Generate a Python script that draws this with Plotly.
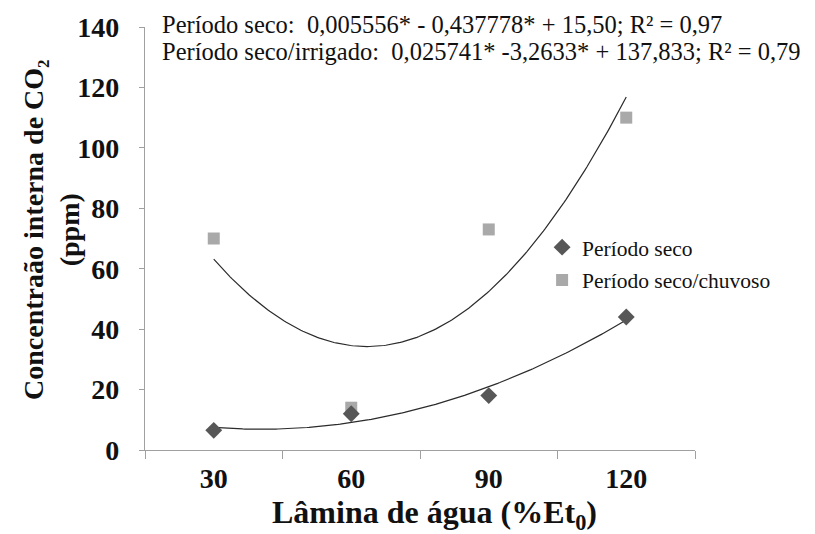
import numpy as np
import plotly.graph_objects as go

categories = ["30", "60", "90", "120"]
seco = [6.5, 12, 18, 44]
seco_chuvoso = [70, 14, 73, 110]
y_ticks = [0, 20, 40, 60, 80, 100, 120, 140]
eq_seco = "Período seco:  0,005556* - 0,437778* + 15,50; R² = 0,97"
eq_irrig = "Período seco/irrigado:  0,025741* -3,2633* + 137,833; R² = 0,79"

FONT = "Liberation Serif, Times New Roman, serif"
idx = np.arange(1, len(categories) + 1)

fig = go.Figure()

# polynomial (order 2) trendlines computed from the data, as in the original chart
xs = np.linspace(idx[0], idx[-1], 200)
for ys in (seco, seco_chuvoso):
    coef = np.polyfit(idx, ys, 2)
    fig.add_trace(go.Scatter(x=xs, y=np.polyval(coef, xs), mode="lines",
                             line=dict(color="#2b2b2b", width=1.2),
                             showlegend=False, hoverinfo="skip"))

fig.add_trace(go.Scatter(x=idx, y=seco_chuvoso, mode="markers", name="Período seco/chuvoso",
                         marker=dict(symbol="square", size=12, color="#a9a9a9"),
                         legendrank=2, legendgroup="b"))
fig.add_trace(go.Scatter(x=idx, y=seco, mode="markers", name="Período seco",
                         marker=dict(symbol="diamond", size=13, color="#575757"),
                         legendrank=1, legendgroup="a"))

fig.add_annotation(text=eq_seco, xref="paper", yref="paper", x=0.028, y=1.007,
                   xanchor="left", yanchor="middle", showarrow=False,
                   font=dict(family=FONT, size=24.5, color="#111"))
fig.add_annotation(text=eq_irrig, xref="paper", yref="paper", x=0.028, y=0.943,
                   xanchor="left", yanchor="middle", showarrow=False,
                   font=dict(family=FONT, size=24.5, color="#111"))

fig.add_annotation(text="<b>Concentraão interna de CO₂<br>(ppm)</b>", xref="paper", yref="paper",
                   x=-0.171, y=0.52, textangle=-90, xanchor="center", yanchor="middle",
                   showarrow=False, font=dict(family=FONT, size=28, color="#111"))
fig.add_annotation(text="<b>Lâmina de água (%Et<sub>0</sub>)</b>", xref="paper", yref="paper",
                   x=0.527, y=-0.153, xanchor="center", yanchor="middle",
                   showarrow=False, font=dict(family=FONT, size=32, color="#111"))

fig.update_layout(
    width=815, height=534,
    margin=dict(l=145, r=120, t=24, b=84),
    plot_bgcolor="white", paper_bgcolor="white",
    font=dict(family=FONT, color="#111"),
    legend=dict(x=0.722, y=0.528, xanchor="left", yanchor="top",
                font=dict(family=FONT, size=21.5, color="#111"),
                tracegroupgap=2, bgcolor="rgba(0,0,0,0)"),
    xaxis=dict(range=[0.5, 4.5], tickvals=list(idx), ticktext=categories,
               ticks="", showgrid=False, zeroline=False,
               showline=True, linecolor="#a0a0a0", linewidth=1.2,
               tickfont=dict(family=FONT, size=28, color="#111", weight="bold"),
               ticklabelstandoff=3,
               minor=dict(tickvals=[0.5, 1.5, 2.5, 3.5, 4.5], ticks="outside",
                          ticklen=8, tickcolor="#a0a0a0", tickwidth=1.2, showgrid=False)),
    yaxis=dict(range=[0, 140], tickvals=y_ticks, ticks="outside", ticklen=5,
               tickcolor="#a0a0a0", tickwidth=1.2, showgrid=False, zeroline=False,
               showline=True, linecolor="#a0a0a0", linewidth=1.2,
               tickfont=dict(family=FONT, size=28, color="#111", weight="bold"),
               ticklabelstandoff=14),
)

fig.write_html("out.html")
